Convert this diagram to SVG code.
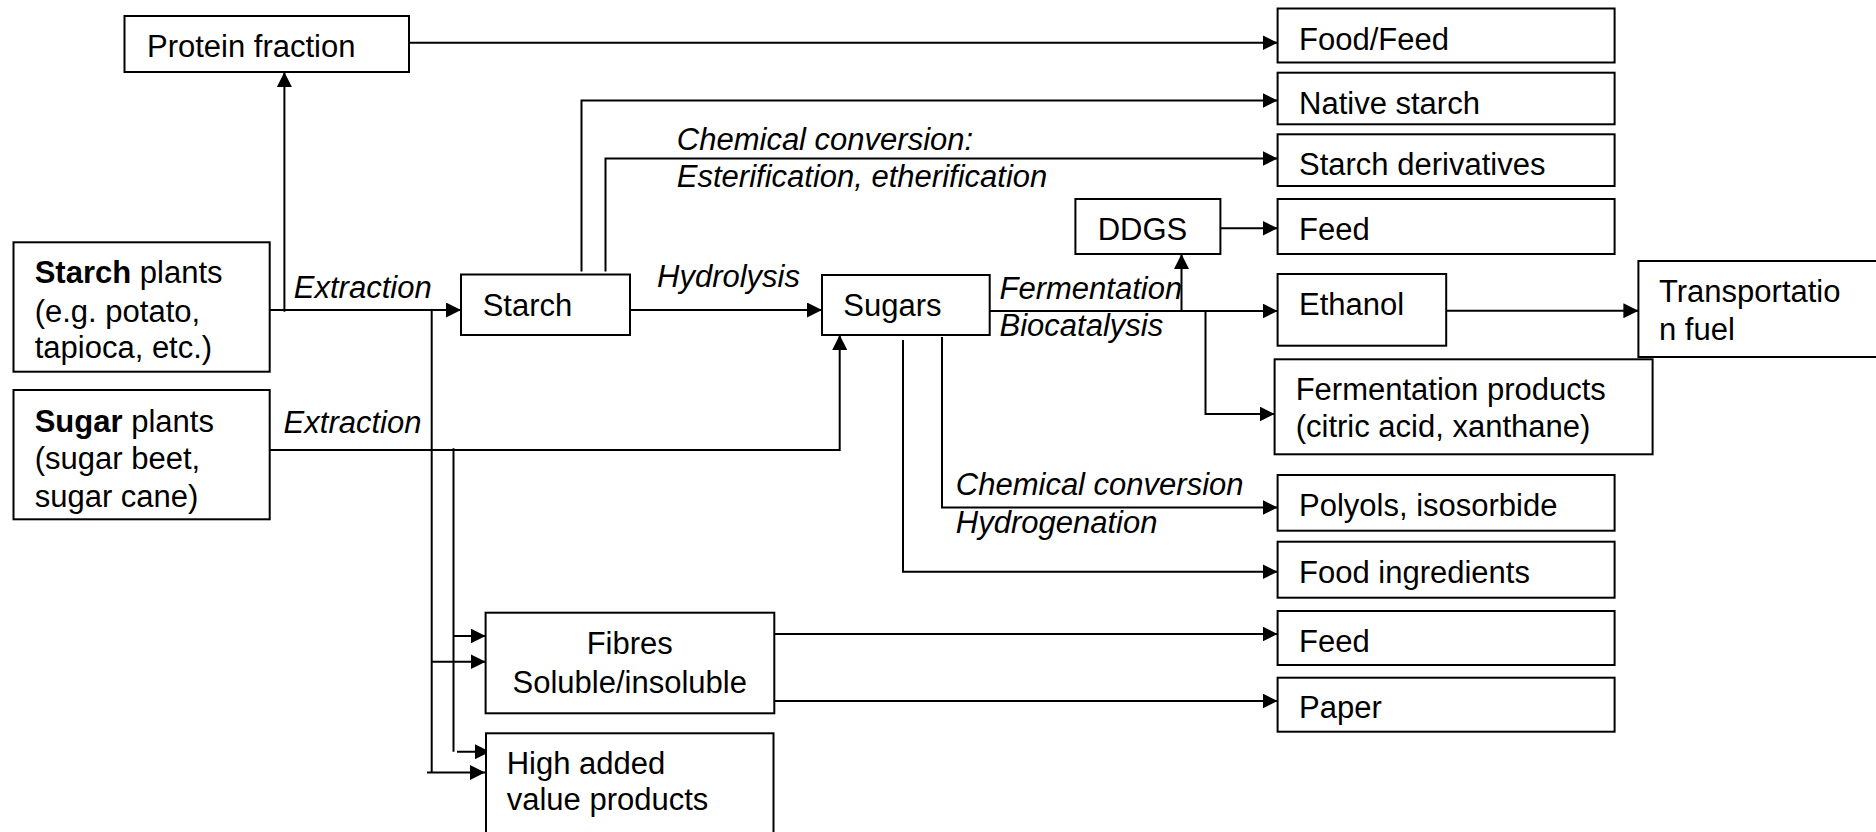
<svg xmlns="http://www.w3.org/2000/svg" width="1876" height="832" viewBox="0 0 1876 832">
  <style>
    .box { fill: #ffffff; stroke: #000000; stroke-width: 2; }
    .lbl { font-family: "Liberation Sans", Arial, sans-serif; font-size: 31px; fill: #000000; }
    .it { font-style: italic; }
    .b { font-weight: bold; }
    .mid { text-anchor: middle; }
    .edge { fill: none; stroke: #000000; stroke-width: 2; }
    .arr { marker-end: url(#head); }
  </style>
  <defs>
    <marker id="head" markerUnits="userSpaceOnUse" markerWidth="15" markerHeight="15" refX="15" refY="7.5" orient="auto" viewBox="0 0 15 15">
      <path d="M0,0 L15,7.5 L0,15 z" fill="#000000"/>
    </marker>
  </defs>
  <rect width="1876" height="832" fill="#ffffff"/>

  <!-- connectors -->
  <g id="connectors">
    <path class="edge arr" d="M409,42.7 H1277.6"/>
    <path class="edge arr" d="M284.4,311.7 V72"/>
    <path class="edge arr" d="M269.7,310 H461"/>
    <path class="edge arr" d="M581.5,271.5 V100.5 H1277.6"/>
    <path class="edge arr" d="M605.5,271.5 V158.5 H1277.6"/>
    <path class="edge arr" d="M630,310 H822"/>
    <path class="edge arr" d="M269.7,450 H839.7 V335"/>
    <path class="edge arr" d="M989.7,311 H1277.6"/>
    <path class="edge arr" d="M1181.5,311 V254"/>
    <path class="edge arr" d="M1220.5,228.3 H1277.6"/>
    <path class="edge arr" d="M1205.5,310 V414 H1274.6"/>
    <path class="edge arr" d="M1446.2,310.7 H1638.4"/>
    <path class="edge arr" d="M942,337 V507.5 H1277.6"/>
    <path class="edge arr" d="M903,340 V571.7 H1277.6"/>
    <path class="edge arr" d="M774.3,634 H1277.6"/>
    <path class="edge arr" d="M774.3,701 H1277.6"/>
    <path class="edge" d="M431.7,310 V772.5"/>
    <path class="edge arr" d="M431.7,661.7 H485.6"/>
    <path class="edge arr" d="M427,772.5 H485"/>
    <path class="edge" d="M453.5,448.3 V751.7"/>
    <path class="edge arr" d="M453.5,636 H485.6"/>
    <path class="edge arr" d="M457,751.7 H490"/>
  </g>

  <!-- process labels on connectors -->
  <g id="process-labels" class="lbl it">
    <text x="293.8" y="298.3">Extraction</text>
    <text x="283.6" y="433.3">Extraction</text>
    <text x="657" y="287.3">Hydrolysis</text>
    <text x="676.8" y="150">Chemical conversion:</text>
    <text x="676.8" y="186.7">Esterification, etherification</text>
    <text x="999.5" y="299">Fermentation</text>
    <text x="999.5" y="336">Biocatalysis</text>
    <text x="955.8" y="495">Chemical conversion</text>
    <text x="955.8" y="533.3">Hydrogenation</text>
  </g>

  <g id="protein-fraction">
    <rect class="box" x="124.5" y="16" width="284.5" height="56"/>
    <text class="lbl" x="147" y="56.7">Protein fraction</text>
  </g>
  <g id="starch-plants">
    <rect class="box" x="13.5" y="242.3" width="256.2" height="129.4"/>
    <text class="lbl" x="34.7" y="283.3"><tspan class="b">Starch</tspan> plants</text>
    <text class="lbl" x="34.7" y="321.7">(e.g. potato,</text>
    <text class="lbl" x="34.7" y="358.3">tapioca, etc.)</text>
  </g>
  <g id="sugar-plants">
    <rect class="box" x="13.5" y="390" width="256.2" height="129.3"/>
    <text class="lbl" x="34.7" y="431.7"><tspan class="b">Sugar</tspan> plants</text>
    <text class="lbl" x="34.7" y="469.3">(sugar beet,</text>
    <text class="lbl" x="34.7" y="506.7">sugar cane)</text>
  </g>
  <g id="starch">
    <rect class="box" x="461" y="274.5" width="169" height="60.5"/>
    <text class="lbl" x="482.7" y="316">Starch</text>
  </g>
  <g id="sugars">
    <rect class="box" x="822" y="275" width="167.7" height="60"/>
    <text class="lbl" x="843.3" y="316">Sugars</text>
  </g>
  <g id="ddgs">
    <rect class="box" x="1075.4" y="199" width="145" height="55"/>
    <text class="lbl" x="1097.7" y="240">DDGS</text>
  </g>
  <g id="food-feed">
    <rect class="box" x="1277.6" y="8.5" width="337" height="54"/>
    <text class="lbl" x="1299" y="50">Food/Feed</text>
  </g>
  <g id="native-starch">
    <rect class="box" x="1277.6" y="72.7" width="337" height="51.6"/>
    <text class="lbl" x="1299" y="114.3">Native starch</text>
  </g>
  <g id="starch-derivatives">
    <rect class="box" x="1277.6" y="134.3" width="337" height="51.7"/>
    <text class="lbl" x="1299" y="175">Starch derivatives</text>
  </g>
  <g id="feed-ddgs">
    <rect class="box" x="1277.6" y="199" width="337" height="55"/>
    <text class="lbl" x="1299" y="240">Feed</text>
  </g>
  <g id="ethanol">
    <rect class="box" x="1277.6" y="274" width="168.6" height="71.7"/>
    <text class="lbl" x="1299" y="315">Ethanol</text>
  </g>
  <g id="transportation-fuel">
    <rect class="box" x="1638.4" y="261" width="260" height="96"/>
    <text class="lbl" x="1659" y="301.7">Transportatio</text>
    <text class="lbl" x="1659" y="340">n fuel</text>
  </g>
  <g id="fermentation-products">
    <rect class="box" x="1274.6" y="359.3" width="378" height="95"/>
    <text class="lbl" x="1295.7" y="400">Fermentation products</text>
    <text class="lbl" x="1295.7" y="436.7">(citric acid, xanthane)</text>
  </g>
  <g id="polyols">
    <rect class="box" x="1277.6" y="475" width="337" height="55.7"/>
    <text class="lbl" x="1299" y="516">Polyols, isosorbide</text>
  </g>
  <g id="food-ingredients">
    <rect class="box" x="1277.6" y="541.7" width="337" height="56"/>
    <text class="lbl" x="1299" y="582.7">Food ingredients</text>
  </g>
  <g id="feed-fibres">
    <rect class="box" x="1277.6" y="611" width="337" height="54"/>
    <text class="lbl" x="1299" y="651.7">Feed</text>
  </g>
  <g id="paper">
    <rect class="box" x="1277.6" y="677.7" width="337" height="54"/>
    <text class="lbl" x="1299" y="718.3">Paper</text>
  </g>
  <g id="fibres">
    <rect class="box" x="485.6" y="612.7" width="288.7" height="100.6"/>
    <text class="lbl mid" x="629.7" y="654.3">Fibres</text>
    <text class="lbl mid" x="629.7" y="692.7">Soluble/insoluble</text>
  </g>
  <g id="high-added-value">
    <rect class="box" x="486" y="733.3" width="287.5" height="110"/>
    <text class="lbl" x="506.7" y="774">High added</text>
    <text class="lbl" x="506.7" y="810">value products</text>
  </g>
</svg>
